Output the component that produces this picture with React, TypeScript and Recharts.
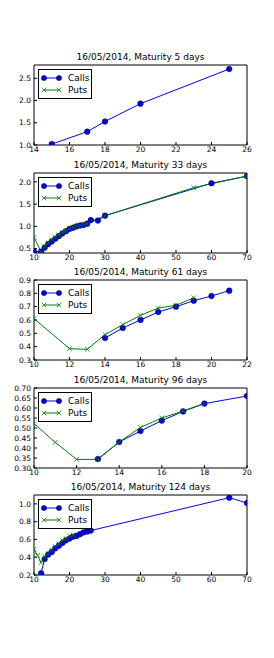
import React from "react";
import {
  LineChart,
  Line,
  XAxis,
  YAxis,
  ReferenceArea,
} from "recharts";

const DATE = "16/05/2014";

// maturity 5 days
const m5CallStrikes = [15, 17, 18, 20, 25];
const m5CallVols = [1.02, 1.3, 1.53, 1.93, 2.71];
const m5PutStrikes: number[] = [];
const m5PutVols: number[] = [];

// maturity 33 days
const m33CallStrikes = [10, 12, 13, 14, 15, 16, 17, 18, 19, 20, 21, 22, 23, 24, 25, 26, 28, 30, 60, 70];
const m33CallVols = [0.43, 0.43, 0.52, 0.6, 0.66, 0.72, 0.78, 0.84, 0.89, 0.94, 0.97, 1.0, 1.02, 1.03, 1.06, 1.14, 1.13, 1.24, 1.97, 2.13];
const m33PutStrikes = [10, 12, 13, 14, 15, 16, 17, 18, 19, 20, 21, 22, 23, 24, 25, 30, 55, 70];
const m33PutVols = [0.75, 0.43, 0.55, 0.63, 0.7, 0.76, 0.81, 0.86, 0.9, 0.95, 0.98, 1.0, 1.02, 1.04, 1.06, 1.24, 1.87, 2.13];

// maturity 61 days
const m61CallStrikes = [14, 15, 16, 17, 18, 19, 20, 21];
const m61CallVols = [0.465, 0.54, 0.6, 0.66, 0.7, 0.745, 0.78, 0.82];
const m61PutStrikes = [10, 12, 13, 14, 15, 16, 17, 18, 19];
const m61PutVols = [0.61, 0.385, 0.38, 0.49, 0.565, 0.635, 0.69, 0.71, 0.767];

// maturity 96 days
const m96CallStrikes = [13, 14, 15, 16, 17, 18, 20];
const m96CallVols = [0.345, 0.43, 0.485, 0.537, 0.583, 0.622, 0.66];
const m96PutStrikes = [10, 11, 12, 13, 14, 15, 16, 17, 18];
const m96PutVols = [0.522, 0.428, 0.343, 0.343, 0.43, 0.503, 0.55, 0.585, 0.623];

// maturity 124 days
const m124CallStrikes = [12, 13, 14, 15, 16, 17, 18, 19, 20, 21, 22, 23, 24, 25, 26, 65, 70];
const m124CallVols = [0.22, 0.38, 0.43, 0.46, 0.5, 0.53, 0.56, 0.59, 0.61, 0.63, 0.64, 0.66, 0.68, 0.69, 0.7, 1.07, 1.01];
const m124PutStrikes = [10, 11, 12, 13, 14, 15, 16, 17, 18, 19, 20, 21];
const m124PutVols = [0.49, 0.42, 0.34, 0.41, 0.44, 0.48, 0.52, 0.55, 0.59, 0.61, 0.64, 0.65];

const FONT = "DejaVu Sans, sans-serif";
const BLUE = "#0000ff";
const GREEN = "#008000";
const PLOT_H = 80;
const PAD = 5; // room above the frame for the top tick label

const zip = (xs: number[], ys: number[]) => xs.map((k, i) => ({ k, v: ys[i] }));

type Panel = {
  days: number;
  top: number;
  xDomain: [number, number];
  xTicks: number[];
  yDomain: [number, number];
  yTicks: number[];
  yDigits: number;
  calls: { k: number; v: number }[];
  puts: { k: number; v: number }[];
};

const panels: Panel[] = [
  {
    days: 5, top: 65, xDomain: [14, 26], xTicks: [14, 16, 18, 20, 22, 24, 26],
    yDomain: [1.0, 2.8], yTicks: [1.0, 1.5, 2.0, 2.5], yDigits: 1,
    calls: zip(m5CallStrikes, m5CallVols), puts: zip(m5PutStrikes, m5PutVols),
  },
  {
    days: 33, top: 173, xDomain: [10, 70], xTicks: [10, 20, 30, 40, 50, 60, 70],
    yDomain: [0.4, 2.2], yTicks: [0.5, 1.0, 1.5, 2.0], yDigits: 1,
    calls: zip(m33CallStrikes, m33CallVols), puts: zip(m33PutStrikes, m33PutVols),
  },
  {
    days: 61, top: 280, xDomain: [10, 22], xTicks: [10, 12, 14, 16, 18, 20, 22],
    yDomain: [0.3, 0.9], yTicks: [0.3, 0.4, 0.5, 0.6, 0.7, 0.8, 0.9], yDigits: 1,
    calls: zip(m61CallStrikes, m61CallVols), puts: zip(m61PutStrikes, m61PutVols),
  },
  {
    days: 96, top: 388, xDomain: [10, 20], xTicks: [10, 12, 14, 16, 18, 20],
    yDomain: [0.3, 0.7], yTicks: [0.3, 0.35, 0.4, 0.45, 0.5, 0.55, 0.6, 0.65, 0.7], yDigits: 2,
    calls: zip(m96CallStrikes, m96CallVols), puts: zip(m96PutStrikes, m96PutVols),
  },
  {
    days: 124, top: 495, xDomain: [10, 70], xTicks: [10, 20, 30, 40, 50, 60, 70],
    yDomain: [0.2, 1.1], yTicks: [0.2, 0.4, 0.6, 0.8, 1.0], yDigits: 1,
    calls: zip(m124CallStrikes, m124CallVols), puts: zip(m124PutStrikes, m124PutVols),
  },
];

const tickStyle = { fontSize: 7.5, fill: "#000", fontFamily: FONT };

const XMark = (props: any) => {
  const { cx, cy, index } = props;
  if (cx == null || cy == null) return <g key={`x-${index}`} />;
  const s = 2.3;
  return (
    <path
      key={`x-${index}`}
      d={`M${cx - s},${cy - s}L${cx + s},${cy + s}M${cx - s},${cy + s}L${cx + s},${cy - s}`}
      stroke={GREEN}
      strokeWidth={0.8}
      fill="none"
    />
  );
};

function Legend() {
  return (
    <div
      style={{
        position: "absolute",
        left: 38,
        top: PAD + 4,
        width: 54,
        height: 30,
        border: "1px solid #000",
        background: "#fff",
        fontFamily: FONT,
        fontSize: 9,
        boxSizing: "border-box",
      }}
    >
      <svg width={28} height={28} style={{ position: "absolute", left: 0, top: 0 }}>
        <line x1={5} x2={20} y1={8} y2={8} stroke={BLUE} strokeWidth={1} />
        <circle cx={5} cy={8} r={2.6} fill={BLUE} stroke="#000" strokeWidth={0.5} />
        <circle cx={20} cy={8} r={2.6} fill={BLUE} stroke="#000" strokeWidth={0.5} />
        <line x1={5} x2={20} y1={20} y2={20} stroke={GREEN} strokeWidth={1} />
        <XMark cx={5} cy={20} index={0} />
        <XMark cx={20} cy={20} index={1} />
      </svg>
      <div style={{ position: "absolute", left: 29, top: 2, lineHeight: "12px" }}>Calls</div>
      <div style={{ position: "absolute", left: 29, top: 14, lineHeight: "12px" }}>Puts</div>
    </div>
  );
}

function VolPanel({ p }: { p: Panel }) {
  const fmt = (v: number) => v.toFixed(p.yDigits);
  return (
    <div style={{ position: "absolute", left: 0, top: p.top - PAD, width: 274, height: PLOT_H + 14 + PAD }}>
      <div
        style={{
          position: "absolute",
          left: 34,
          width: 213,
          top: PAD - 13,
          textAlign: "center",
          fontFamily: FONT,
          fontSize: 9,
          lineHeight: "11px",
          whiteSpace: "nowrap",
        }}
      >
        {`${DATE}, Maturity ${p.days} days`}
      </div>
      <LineChart
        width={274}
        height={PLOT_H + 14 + PAD}
        margin={{ top: PAD, right: 27, bottom: 0, left: 0 }}
      >
        <XAxis
          xAxisId="b"
          dataKey="k"
          type="number"
          domain={p.xDomain}
          ticks={p.xTicks}
          interval={0}
          allowDataOverflow
          height={14}
          tickSize={-3}
          tickMargin={5}
          tick={tickStyle}
          axisLine={false}
          stroke="#000"
        />
        <XAxis
          xAxisId="t"
          orientation="top"
          type="number"
          domain={p.xDomain}
          ticks={p.xTicks}
          interval={0}
          allowDataOverflow
          height={0}
          tickSize={-3}
          tick={false}
          axisLine={false}
          stroke="#000"
        />
        <YAxis
          yAxisId="l"
          type="number"
          domain={p.yDomain}
          ticks={p.yTicks}
          interval={0}
          allowDataOverflow
          width={34}
          tickSize={-3}
          tickMargin={6}
          tick={tickStyle}
          tickFormatter={fmt}
          axisLine={false}
          stroke="#000"
        />
        <YAxis
          yAxisId="r"
          orientation="right"
          type="number"
          domain={p.yDomain}
          ticks={p.yTicks}
          interval={0}
          allowDataOverflow
          width={0}
          tickSize={-3}
          tick={false}
          axisLine={false}
          stroke="#000"
        />
        <ReferenceArea
          xAxisId="b"
          yAxisId="l"
          x1={p.xDomain[0]}
          x2={p.xDomain[1]}
          y1={p.yDomain[0]}
          y2={p.yDomain[1]}
          fill="none"
          stroke="#000"
          strokeWidth={1}
          ifOverflow="visible"
        />
        <Line
          xAxisId="b"
          yAxisId="l"
          data={p.calls}
          dataKey="v"
          stroke={BLUE}
          strokeWidth={1}
          dot={{ r: 2.8, fill: BLUE, stroke: "#000", strokeWidth: 0.5 }}
          isAnimationActive={false}
        />
        <Line
          xAxisId="b"
          yAxisId="l"
          data={p.puts}
          dataKey="v"
          stroke={GREEN}
          strokeWidth={1}
          dot={XMark}
          isAnimationActive={false}
        />
      </LineChart>
      <Legend />
    </div>
  );
}

export default function App() {
  return (
    <div style={{ position: "absolute", left: 0, top: 0, width: 274, height: 658, background: "#fff" }}>
      {panels.map((p) => (
        <VolPanel key={p.days} p={p} />
      ))}
    </div>
  );
}
